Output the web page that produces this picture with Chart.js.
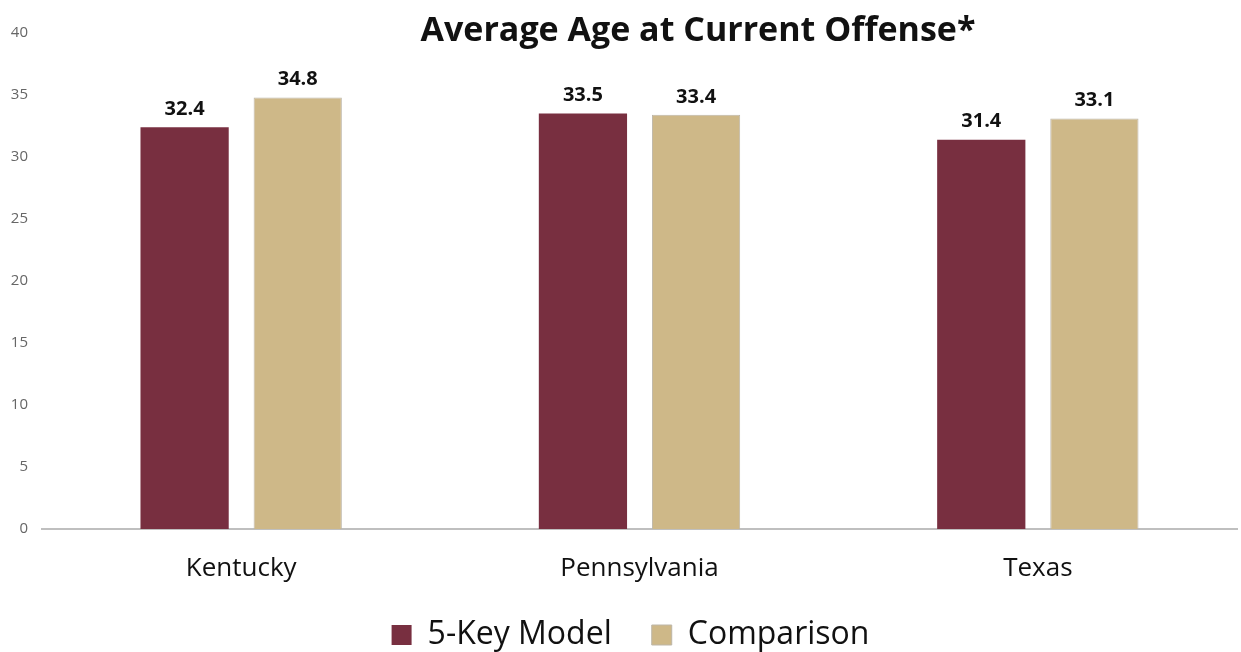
<!DOCTYPE html>
<html>
<head>
<meta charset="utf-8">
<script src="https://cdn.jsdelivr.net/npm/chart.js@4"></script>
<style>
  html, body { margin: 0; padding: 0; background: #fff; }
  #wrap { width: 1241px; height: 652px; }
</style>
</head>
<body>
<div id="wrap"><canvas id="ageChart"></canvas></div>
<script>
// chart values
const states = ["Kentucky", "Pennsylvania", "Texas"];
const fiveKey = [32.4, 33.5, 31.4];
const comparison = [34.8, 33.4, 33.1];
const yTicks = [0, 5, 10, 15, 20, 25, 30, 35, 40];
const chartTitle = "Average Age at Current Offense*";

const FONT = "'Open Sans', sans-serif";

// draws the title and the numbers above the bars
const labelPlugin = {
    id: "labelPlugin",
    afterLayout(chart) {
        // let the x labels hang below the (short) axis box, nudge legend
        chart.scales.x.bottom = chart.height;
        const lg = chart.legend;
        lg.top += 9; lg.bottom += 9;
        lg.left += 12; lg.right += 12;
    },
    afterDatasetsDraw(chart) {
        const ctx = chart.ctx;
        ctx.save();
        ctx.fillStyle = "#111";
        ctx.textAlign = "center";
        ctx.textBaseline = "bottom";
        ctx.font = "bold 20px " + FONT;
        chart.data.datasets.forEach((ds, i) => {
            chart.getDatasetMeta(i).data.forEach((bar, j) => {
                ctx.fillText(ds.data[j].toFixed(1), bar.x, bar.y - 8);
            });
        });
        ctx.font = "bold 34px " + FONT;
        ctx.textBaseline = "middle";
        ctx.fillText(chartTitle, 698, 31);
        ctx.restore();
    }
};

const ctx = document.getElementById("ageChart").getContext("2d");
new Chart(ctx, {
    type: "bar",
    data: {
        labels: states,
        datasets: [
            {
                label: "5-Key Model",
                data: fiveKey,
                backgroundColor: "#782F40",
                borderColor: "#782F40",
                borderWidth: 0
            },
            {
                label: "Comparison",
                data: comparison,
                backgroundColor: "#CEB888",
                borderColor: "#BDB6A8",
                borderWidth: 1
            }
        ]
    },
    options: {
        responsive: true,
        maintainAspectRatio: false,
        animation: false,
        categoryPercentage: 0.568,
        barPercentage: 0.78,
        layout: { padding: { top: 33, right: 4, left: 0, bottom: 0 } },
        plugins: {
            legend: {
                position: "bottom",
                labels: {
                    font: { family: FONT, size: 32 },
                    color: "#111",
                    boxWidth: 20,
                    boxHeight: 20,
                    padding: 40
                }
            },
            title: { display: false },
            tooltip: { enabled: false }
        },
        scales: {
            x: {
                grid: { display: false, drawTicks: false },
                border: { display: true, color: "#BFBFBF", width: 2 },
                ticks: {
                    font: { family: FONT, size: 26 },
                    color: "#111",
                    padding: 24
                },
                afterFit(scale) { scale.height = 41; }
            },
            y: {
                min: 0,
                max: 40,
                afterBuildTicks(scale) { scale.ticks = yTicks.map(v => ({ value: v })); },
                grid: { display: false, drawTicks: false },
                border: { display: false },
                ticks: {
                    font: { family: FONT, size: 15 },
                    color: "#666",
                    padding: 14
                },
                afterFit(scale) { scale.width = 42; }
            }
        }
    },
    plugins: [labelPlugin]
});
</script>
</body>
</html>
